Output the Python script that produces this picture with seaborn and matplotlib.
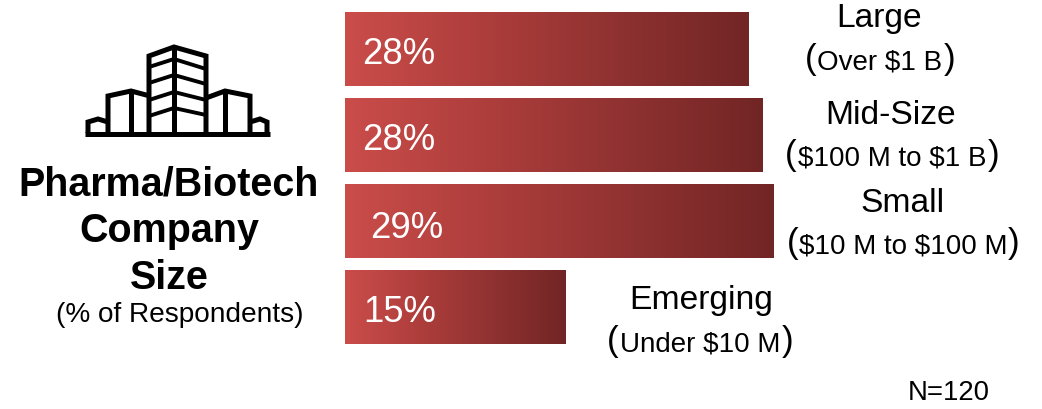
import numpy as np
import pandas as pd
import seaborn as sns
import matplotlib
matplotlib.use("Agg")
import matplotlib.pyplot as plt
from matplotlib.colors import LinearSegmentedColormap

categories = ["Large", "Mid-Size", "Small", "Emerging"]
ranges = ["Over $1 B", "$100 M to $1 B", "$10 M to $100 M", "Under $10 M"]
values = [27.3, 28.2, 29.0, 14.9]
labels = ["28%", "28%", "29%", "15%"]

W, H = 1042, 409
sns.set_theme(style="white")
plt.rcParams["font.family"] = ["Liberation Sans", "DejaVu Sans"]
fig = plt.figure(figsize=(W / 100, H / 100), dpi=100, facecolor="white")

# Bars
px_per_unit = 429 / 29.0
ax = fig.add_axes([345 / W, 1 - 350 / H, 30 * px_per_unit / W, 344 / H])
df = pd.DataFrame({"category": categories, "value": values})
sns.barplot(data=df, x="value", y="category", orient="h", color="#A83C3A", width=0.86, ax=ax)
ax.set_xlim(0, 30)
ax.set_ylim(3.5, -0.5)
ax.axis("off")

cmap = LinearSegmentedColormap.from_list("bar", ["#CA4D4A", "#AE3E3C", "#8F3231", "#722525"])
grad = np.linspace(0, 1, 256).reshape(1, -1)
for patch in list(ax.patches):
    x0, y0, w, h = patch.get_x(), patch.get_y(), patch.get_width(), patch.get_height()
    im = ax.imshow(grad, cmap=cmap, aspect="auto", extent=[x0, x0 + w, y0 + h, y0], zorder=3)
    im.set_clip_path(patch)
    patch.set_edgecolor("none")
ax.set_xlim(0, 30)
ax.set_ylim(3.5, -0.5)

# Overlay in figure pixels for annotation and icon
ov = fig.add_axes([0, 0, 1, 1], facecolor="none")
ov.set_xlim(0, W)
ov.set_ylim(H, 0)
ov.axis("off")


def px(size):
    return size * 0.72


# Value labels
label_x = [399, 399, 407, 400]
label_y = [54, 140, 228, 312]
for t, x, y in zip(labels, label_x, label_y):
    ov.text(x, y, t, color="white", fontsize=px(36.5), ha="center", va="center")

# Category labels
name_x = [879, 891, 903, 701]
name_y = [19, 115, 203, 301]
range_x = [880, 892, 903, 700]
range_y = [63, 159, 247, 345]
half = [75, 107, 116, 93]
for c, r, nx, ny, rx, ry, hw in zip(categories, ranges, name_x, name_y, range_x, range_y, half):
    ov.text(nx, ny, c, color="black", fontsize=px(33.7), ha="center", va="center")
    ov.text(rx, ry, r, color="black", fontsize=px(27.8), ha="center", va="center", parse_math=False)
    ov.text(rx - hw, ry - 3, "(", color="black", fontsize=px(35), ha="left", va="center")
    ov.text(rx + hw, ry - 3, ")", color="black", fontsize=px(35), ha="right", va="center")

# Left title
for t, y in zip(["Pharma/Biotech", "Company", "Size"], [184, 231, 278]):
    ov.text(169, y, t, color="black", fontsize=px(39.5), fontweight="bold", ha="center", va="center")
ov.text(180, 315, "(% of Respondents)", color="black", fontsize=px(28), ha="center", va="center")
ov.text(949, 393, "N=120", color="black", fontsize=px(27.5), ha="center", va="center")

# Building icon
outline = [
    [(85, 133.5), (270, 133.5)],
    [(88, 133), (88, 122), (98, 119), (108, 122)],
    [(108, 133), (108, 96), (131, 91), (150, 96)],
    [(131, 91), (131, 133)],
    [(149, 133), (149, 56), (174, 47), (206, 56), (206, 133)],
    [(174, 47), (174, 133)],
    [(206, 98), (225, 91), (250, 96), (250, 133)],
    [(225, 91), (225, 133)],
    [(250, 122), (260, 119), (267, 122), (267, 133)],
]
floors = [
    [(149, 67), (174, 59), (206, 69)],
    [(149, 83), (174, 75), (206, 84)],
    [(149, 100), (174, 92), (206, 100)],
    [(149, 116), (174, 108), (206, 115)],
]
for p in outline:
    xs, ys = zip(*p)
    ov.plot(xs, ys, color="black", lw=3.6, solid_joinstyle="miter", solid_capstyle="butt")
for p in floors:
    xs, ys = zip(*p)
    ov.plot(xs, ys, color="black", lw=2.8, solid_joinstyle="miter", solid_capstyle="butt")

fig.savefig("out.png", dpi=100, facecolor="white")
